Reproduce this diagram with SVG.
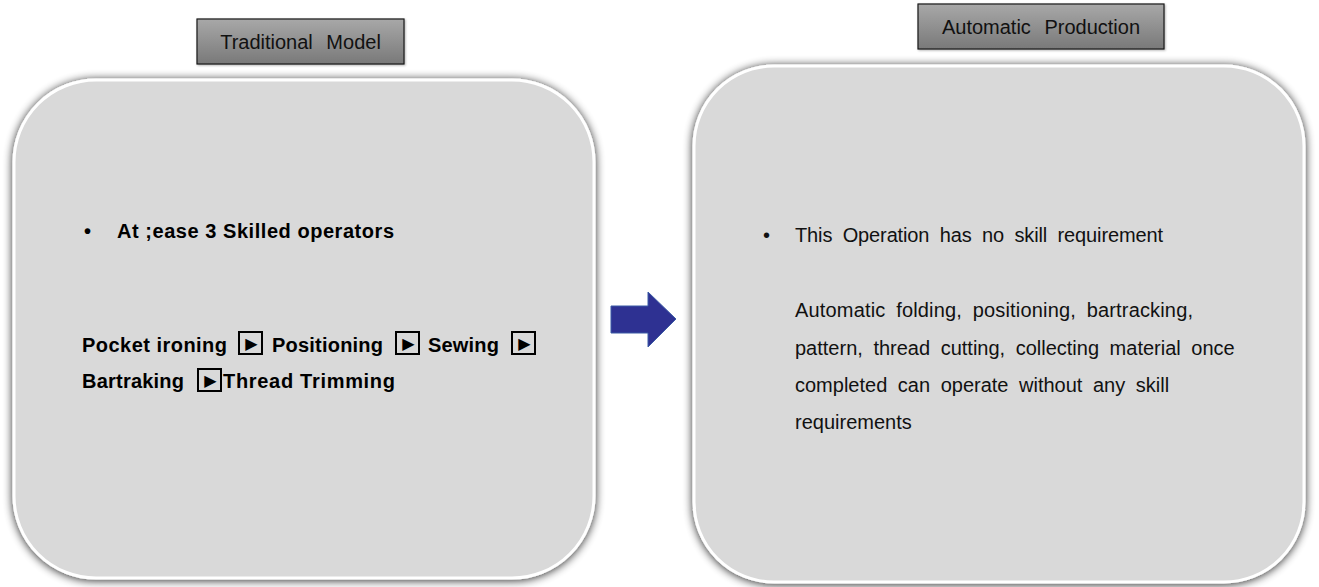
<svg xmlns="http://www.w3.org/2000/svg" width="1319" height="587" viewBox="0 0 1319 587">
  <defs>
    <linearGradient id="labelGrad" x1="0" y1="0" x2="0" y2="1">
      <stop offset="0" stop-color="#a8a8a8"/>
      <stop offset="1" stop-color="#797979"/>
    </linearGradient>
    <filter id="glow" x="-10%" y="-10%" width="120%" height="120%">
      <feGaussianBlur in="SourceAlpha" stdDeviation="5"/>
      <feOffset dx="0" dy="1" result="b"/>
      <feComponentTransfer in="b" result="s">
        <feFuncA type="linear" slope="0.85"/>
      </feComponentTransfer>
      <feMerge>
        <feMergeNode in="s"/>
        <feMergeNode in="SourceGraphic"/>
      </feMerge>
    </filter>
    <filter id="lblShadow" x="-10%" y="-20%" width="120%" height="150%">
      <feGaussianBlur in="SourceAlpha" stdDeviation="1"/>
      <feOffset dx="1" dy="1" result="b"/>
      <feComponentTransfer in="b" result="s">
        <feFuncA type="linear" slope="0.3"/>
      </feComponentTransfer>
      <feMerge>
        <feMergeNode in="s"/>
        <feMergeNode in="SourceGraphic"/>
      </feMerge>
    </filter>
  </defs>
  <style>
    .panel { fill: #d9d9d9; stroke: #ffffff; stroke-width: 3; filter: url(#glow); }
    .label { fill: url(#labelGrad); stroke: #1a1a1a; stroke-width: 1.2; filter: url(#lblShadow); }
    .lt { font-family: "Liberation Sans", Arial, sans-serif; font-size: 20px; fill: #111; text-anchor: middle; word-spacing: 8px; }
    .body { font-family: "Liberation Sans", Arial, sans-serif; font-size: 20px; fill: #111; word-spacing: 5px; }
    .bold { font-family: "Liberation Sans", Arial, sans-serif; font-size: 20px; font-weight: bold; fill: #000; }
    .sym { fill: none; stroke: #000; stroke-width: 2; }
    .tri { font-family: "DejaVu Sans", sans-serif; font-size: 16px; fill: #000; text-anchor: middle; }
  </style>

  <g id="node-traditional">
    <rect class="panel" x="14" y="80" width="580" height="498" rx="82" ry="82"/>
    <text class="bold" x="84" y="238">•</text>
    <text class="bold" x="117" y="238" textLength="277" lengthAdjust="spacing">At ;ease 3 Skilled operators</text>
    <text class="bold" x="82" y="352" textLength="145" lengthAdjust="spacing">Pocket ironing</text>
    <rect class="sym" x="239" y="332" width="23" height="22"/>
    <text class="tri" x="251.5" y="349">▶</text>
    <text class="bold" x="272" y="352" textLength="111" lengthAdjust="spacing">Positioning</text>
    <rect class="sym" x="396" y="332" width="23" height="22"/>
    <text class="tri" x="408.5" y="349">▶</text>
    <text class="bold" x="428" y="352" textLength="71" lengthAdjust="spacing">Sewing</text>
    <rect class="sym" x="512" y="332" width="23" height="22"/>
    <text class="tri" x="524.5" y="349">▶</text>
    <text class="bold" x="82" y="388" textLength="102" lengthAdjust="spacing">Bartraking</text>
    <rect class="sym" x="198" y="369" width="23" height="22"/>
    <text class="tri" x="210.5" y="386">▶</text>
    <text class="bold" x="223" y="388" textLength="172" lengthAdjust="spacing">Thread Trimming</text>
  </g>

  <g id="node-traditional-label">
    <rect class="label" x="197" y="19" width="207" height="45"/>
    <text class="lt" x="300.5" y="49">Traditional Model</text>
  </g>

  <g id="node-automatic">
    <rect class="panel" x="694" y="66" width="610" height="516" rx="80" ry="80"/>
    <text class="body" x="763" y="242">•</text>
    <text class="body" x="795" y="242" textLength="368" lengthAdjust="spacing">This Operation has no skill requirement</text>
    <text class="body" x="795" y="317" textLength="398" lengthAdjust="spacing">Automatic folding, positioning, bartracking,</text>
    <text class="body" x="795" y="355">pattern, thread cutting, collecting material once</text>
    <text class="body" x="795" y="392">completed can operate without any skill</text>
    <text class="body" x="795" y="429">requirements</text>
  </g>

  <g id="node-automatic-label">
    <rect class="label" x="918" y="4" width="246" height="45"/>
    <text class="lt" x="1041" y="34">Automatic Production</text>
  </g>

  <g id="connectors">
    <polygon points="611,306 648,306 648,292 676,319 648,347 648,333 611,333" fill="#2e3192" stroke="#3b5ba5" stroke-width="1"/>
  </g>
</svg>
